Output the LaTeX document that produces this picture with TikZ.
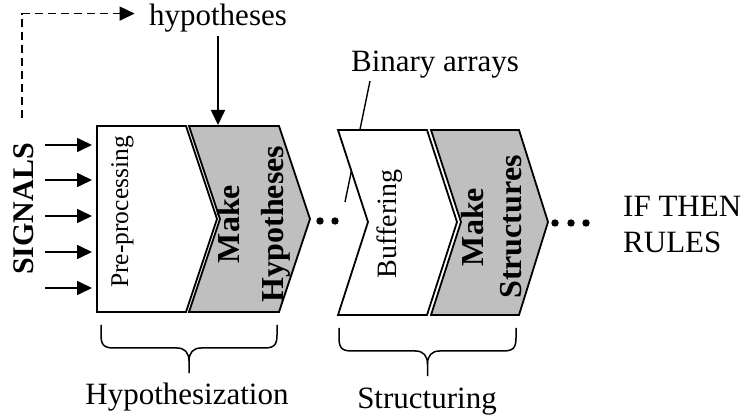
\documentclass[tikz,border=0pt]{standalone}
\usepackage{fontspec}
\setmainfont{Liberation Serif}
\usetikzlibrary{arrows.meta}
\definecolor{stagegray}{gray}{0.75}
\tikzset{
  stagebox/.style={draw, line width=1.8pt, line join=miter, fill=white},
  graybox/.style={stagebox, fill=stagegray},
  sigarrow/.style={-{Triangle[length=15pt,width=14pt]}, line width=1.7pt},
  dasharrow/.style={sigarrow, dash pattern=on 8pt off 5pt},
  lbl/.style={font=\fontsize{31}{36}\selectfont},
  vlbl/.style={rotate=90, anchor=north, inner sep=0pt},
  bracestyle/.style={line width=1.5pt, line join=round},
}

\begin{document}
\begin{tikzpicture}[x=1pt, y=-1pt]
\useasboundingbox (0,0) rectangle (744,419);

% labels
\node[lbl, anchor=base] (hyp) at (218,26) {hypotheses};
\node[lbl, anchor=base] (bin) at (435,72) {Binary arrays};
\node[lbl, anchor=north west, inner sep=0pt, align=left] (ifthen) at (623,196) {IF THEN\\RULES};
\node[vlbl, font=\fontsize{30}{36}\selectfont\bfseries] (signals) at (13,209) {SIGNALS};

% signal inputs
\foreach \y [count=\i] in {145,180,216,252,288} {
  \coordinate (sig\i) at (45,\y);
  \coordinate (in\i) at (92,\y);
  \draw[sigarrow] (sig\i) -- (in\i);
}

% feedback of hypotheses
\coordinate (fb) at (22,118);
\draw[dasharrow] (fb) |- ([xshift=-11pt,yshift=5pt]hyp.west);
\coordinate (mkhyp-top) at (218,125);
\draw[sigarrow] (hyp) -- (mkhyp-top);

% leader of binary arrays (runs behind the buffer)
\coordinate (bin-foot) at (370,81);
\coordinate (bin-end) at (345,202);
\draw[line width=1.4pt] (bin-foot) -- (bin-end);

% stages
\draw[stagebox] (97,126) -- (186,126) -- (217,219) -- (186,312) -- (97,312) -- cycle;
\draw[graybox] (189,126) -- (279,126) -- (310,219) -- (279,312) -- (189,312) -- (220,219) -- cycle;
\draw[stagebox] (338,130) -- (427,130) -- (457,222) -- (427,315) -- (338,315) -- (368,222) -- cycle;
\draw[graybox] (431,130) -- (519,130) -- (548,222) -- (519,315) -- (431,315) -- (461,222) -- cycle;

\node[vlbl, font=\fontsize{25.5}{30}\selectfont] (pre) at (111,212) {Pre-processing};
\node[vlbl, align=center, font=\fontsize{32}{44}\selectfont\bfseries] (mkhyp) at (217,224) {Make\\Hypotheses};
\node[vlbl, font=\fontsize{28}{32}\selectfont] (buf) at (377,224) {Buffering};
\node[vlbl, align=center, font=\fontsize{32}{38}\selectfont\bfseries] (mkstr) at (461,227) {Make\\Structures};

% dots
\foreach \x in {320,335} \fill (\x,221) circle (3.7);
\foreach \x in {555,571,586} \fill (\x,223) circle (3.7);

% braces
\foreach \l/\r/\t in {101/277/325, 339/516/328} {
  \pgfmathsetmacro{\c}{(\l+\r)/2}
  \draw[bracestyle] (\l,\t) -- (\l,\t+10) .. controls (\l,\t+20) and (\l+3,\t+23) .. (\l+13,\t+23)
    -- (\c-12,\t+23) .. controls (\c-4,\t+23) and (\c,\t+28) .. (\c,\t+36) -- (\c,\t+48);
  \draw[bracestyle] (\r,\t) -- (\r,\t+10) .. controls (\r,\t+20) and (\r-3,\t+23) .. (\r-13,\t+23)
    -- (\c+12,\t+23) .. controls (\c+4,\t+23) and (\c,\t+28) .. (\c,\t+36);
}
\node[lbl, anchor=base] (hyping) at (187,404) {Hypothesization};
\node[lbl, anchor=base] (struct) at (427,408) {Structuring};
\end{tikzpicture}
\end{document}
